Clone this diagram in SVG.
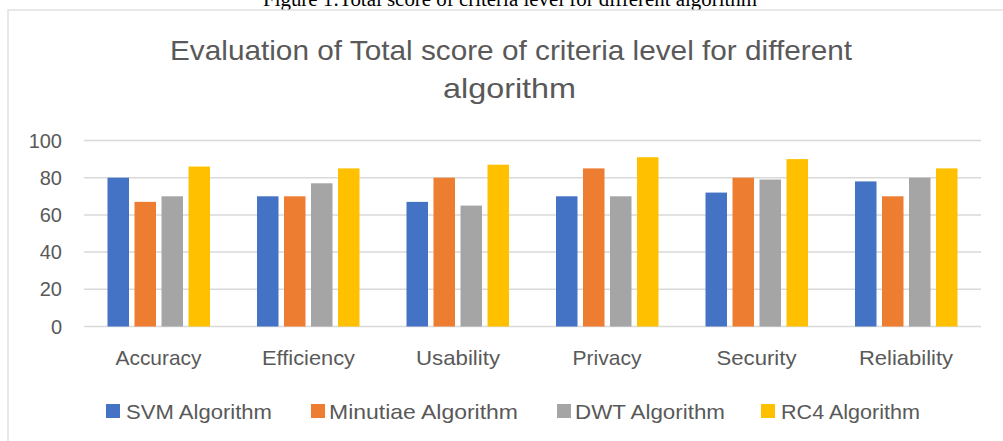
<svg xmlns="http://www.w3.org/2000/svg" width="1003" height="441" viewBox="0 0 1003 441">
<style>
.t{font-family:"Liberation Sans",Arial,sans-serif;fill:#595959}
.grid{stroke:#D9D9D9;stroke-width:1.5}
.b{fill:#4472C4}.o{fill:#ED7D31}.g{fill:#A5A5A5}.y{fill:#FFC000}
.ax{font-size:20px;text-anchor:end}
.cat{font-size:21px;text-anchor:middle}
.lg{font-size:21px}
</style>
<rect width="1003" height="441" fill="#fff"/>
<text x="510" y="6" font-family="'Liberation Serif','Times New Roman',serif" font-size="20" fill="#000" text-anchor="middle" textLength="494" lengthAdjust="spacingAndGlyphs">Figure 1:Total score of criteria level for different algorithm</text>
<rect id="frame" x="8" y="10" width="1010" height="450" fill="#fff" stroke="#D9D9D9" stroke-width="1.2"/>
<g id="title" class="t" font-size="28">
<text x="511" y="60" text-anchor="middle" textLength="682" lengthAdjust="spacingAndGlyphs">Evaluation of Total score of criteria level for different</text>
<text x="509.5" y="98" text-anchor="middle" textLength="133" lengthAdjust="spacingAndGlyphs">algorithm</text>
</g>
<g id="gridlines" class="grid">
<line x1="84" y1="140.5" x2="981" y2="140.5"/>
<line x1="84" y1="177.7" x2="981" y2="177.7"/>
<line x1="84" y1="214.9" x2="981" y2="214.9"/>
<line x1="84" y1="252.1" x2="981" y2="252.1"/>
<line x1="84" y1="289.3" x2="981" y2="289.3"/>
<line x1="84" y1="326.5" x2="981" y2="326.5"/>
</g>
<g id="yaxis" class="t ax">
<text x="62" y="147.5">100</text>
<text x="62" y="184.7">80</text>
<text x="62" y="221.9">60</text>
<text x="62" y="259.1">40</text>
<text x="62" y="296.3">20</text>
<text x="62" y="333.5">0</text>
</g>
<g id="accuracy">
<rect class="b" x="107.5" y="177.7" width="21.5" height="148.8"/>
<rect class="o" x="134.5" y="201.88" width="21.5" height="124.62"/>
<rect class="g" x="161.5" y="196.3" width="21.5" height="130.2"/>
<rect class="y" x="188.5" y="166.54" width="21.5" height="159.96"/>
</g>
<g id="efficiency">
<rect class="b" x="257" y="196.3" width="21.5" height="130.2"/>
<rect class="o" x="284" y="196.3" width="21.5" height="130.2"/>
<rect class="g" x="311" y="183.28" width="21.5" height="143.22"/>
<rect class="y" x="338" y="168.4" width="21.5" height="158.1"/>
</g>
<g id="usability">
<rect class="b" x="406.5" y="201.88" width="21.5" height="124.62"/>
<rect class="o" x="433.5" y="177.7" width="21.5" height="148.8"/>
<rect class="g" x="460.5" y="205.6" width="21.5" height="120.9"/>
<rect class="y" x="487.5" y="164.68" width="21.5" height="161.82"/>
</g>
<g id="privacy">
<rect class="b" x="556" y="196.3" width="21.5" height="130.2"/>
<rect class="o" x="583" y="168.4" width="21.5" height="158.1"/>
<rect class="g" x="610" y="196.3" width="21.5" height="130.2"/>
<rect class="y" x="637" y="157.24" width="21.5" height="169.26"/>
</g>
<g id="security">
<rect class="b" x="705.5" y="192.58" width="21.5" height="133.92"/>
<rect class="o" x="732.5" y="177.7" width="21.5" height="148.8"/>
<rect class="g" x="759.5" y="179.56" width="21.5" height="146.94"/>
<rect class="y" x="786.5" y="159.1" width="21.5" height="167.4"/>
</g>
<g id="reliability">
<rect class="b" x="855" y="181.42" width="21.5" height="145.08"/>
<rect class="o" x="882" y="196.3" width="21.5" height="130.2"/>
<rect class="g" x="909" y="177.7" width="21.5" height="148.8"/>
<rect class="y" x="936" y="168.4" width="21.5" height="158.1"/>
</g>
<g id="categories" class="t cat">
<text x="158.5" y="365" textLength="86" lengthAdjust="spacingAndGlyphs">Accuracy</text>
<text x="308.5" y="365" textLength="93" lengthAdjust="spacingAndGlyphs">Efficiency</text>
<text x="458" y="365" textLength="84" lengthAdjust="spacingAndGlyphs">Usability</text>
<text x="607" y="365" textLength="69" lengthAdjust="spacingAndGlyphs">Privacy</text>
<text x="756.5" y="365" textLength="80" lengthAdjust="spacingAndGlyphs">Security</text>
<text x="906" y="365" textLength="94" lengthAdjust="spacingAndGlyphs">Reliability</text>
</g>
<g id="legend" class="t lg">
<rect class="b" x="106" y="404" width="14" height="14"/>
<text x="126" y="418.5" textLength="146" lengthAdjust="spacingAndGlyphs">SVM Algorithm</text>
<rect class="o" x="311" y="404" width="14" height="14"/>
<text x="329" y="418.5" textLength="189" lengthAdjust="spacingAndGlyphs">Minutiae Algorithm</text>
<rect class="g" x="557" y="404" width="14" height="14"/>
<text x="575" y="418.5" textLength="150" lengthAdjust="spacingAndGlyphs">DWT Algorithm</text>
<rect class="y" x="761" y="404" width="14" height="14"/>
<text x="781" y="418.5" textLength="139" lengthAdjust="spacingAndGlyphs">RC4 Algorithm</text>
</g>
</svg>
